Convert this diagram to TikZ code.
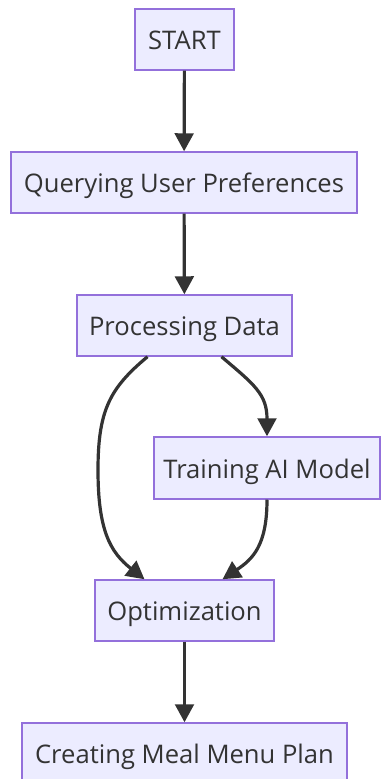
\documentclass[tikz,border=0pt]{standalone}
\usepackage{fontspec}
\setmainfont{Open Sans}
\usetikzlibrary{arrows.meta}
\definecolor{boxfill}{HTML}{ECECFF}
\definecolor{boxline}{HTML}{9370DB}
\definecolor{ink}{HTML}{333333}
\begin{document}
\begin{tikzpicture}[x=0.75pt,y=-0.75pt,
  flowbox/.style={draw=boxline,fill=boxfill,line width=1.1pt,inner sep=0pt,
    text=ink,font=\fontsize{19.2}{23}\selectfont,text height=16pt,text depth=0.5pt},
  flow/.style={draw=ink,line width=2.4pt,-{Triangle[length=13.5pt,width=14pt]}}]
\useasboundingbox (0,0) rectangle (380,779);
\node[flowbox,minimum width=99*0.75pt,minimum height=61*0.75pt] (start) at (184.5,39.5) {START};
\node[flowbox,minimum width=346*0.75pt,minimum height=61*0.75pt] (query) at (184,182.5) {Querying User Preferences};
\node[flowbox,minimum width=215*0.75pt,minimum height=61*0.75pt] (proc) at (184.5,325.5) {Processing Data};
\node[flowbox,minimum width=226*0.75pt,minimum height=62*0.75pt] (train) at (267,468) {Training AI Model};
\node[flowbox,minimum width=179*0.75pt,minimum height=61*0.75pt] (opt) at (184.5,610.5) {Optimization};
\node[flowbox,minimum width=325*0.75pt,minimum height=61*0.75pt] (menu) at (184.5,753.5) {Creating Meal Menu Plan};

\draw[flow] (start) -- (query);
\draw[flow] (query) -- (proc);
\draw[flow] (proc.south) ++(37,0) .. controls +(33,28) and +(0,-42) .. (train.north);
\draw[flow] (proc.south) ++(-37,0) .. controls (110,388) and (98,410) .. (98,470)
  .. controls (98,530) and (110,552) .. ([xshift=-40*0.75pt]opt.north);
\draw[flow] (train.south) .. controls +(0,46) and +(30,-20) .. ([xshift=38*0.75pt]opt.north);
\draw[flow] (opt) -- (menu);
\end{tikzpicture}
\end{document}
